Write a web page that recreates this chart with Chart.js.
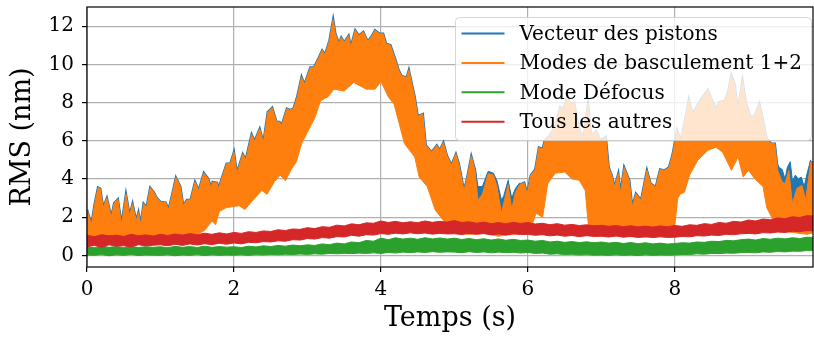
<!DOCTYPE html>
<html>
<head>
<meta charset="utf-8">
<script src="https://cdn.jsdelivr.net/npm/chart.js@4.4.0/dist/chart.umd.min.js"></script>
<style>
  html, body { margin: 0; padding: 0; background: #fff; }
  canvas { display: block; }
</style>
</head>
<body>
<canvas id="myChart" width="814" height="338"></canvas>
<script>
const labels = ["Vecteur des pistons", "Modes de basculement 1+2", "Mode Défocus", "Tous les autres"]
const colors = ["#1f77b4", "#ff7f0e", "#2ca02c", "#d62728"]

// temps d'échantillonnage (s) des bandes rouge et verte
const temps = Array.from({ length: 100 }, (_, i) => i / 10)

// "Tous les autres" : bord bas / bord haut de la bande (nm)
const autresBas = [
    0.45, 0.52, 0.42, 0.55, 0.48, 0.50, 0.44, 0.56, 0.49, 0.53,
    0.55, 0.50, 0.58, 0.52, 0.60, 0.54, 0.61, 0.56, 0.63, 0.58,
    0.65, 0.60, 0.68, 0.66, 0.72, 0.70, 0.76, 0.74, 0.82, 0.80,
    0.88, 0.85, 0.93, 0.90, 0.98, 0.96, 1.05, 1.00, 1.08, 1.06,
    1.14, 1.10, 1.16, 1.12, 1.18, 1.13, 1.17, 1.11, 1.15, 1.12,
    1.13, 1.09, 1.15, 1.10, 1.14, 1.08, 1.12, 1.07, 1.13, 1.09,
    1.10, 1.05, 1.08, 1.02, 1.06, 1.00, 1.04, 0.98, 1.03, 0.99,
    1.00, 0.96, 1.01, 0.95, 0.99, 0.94, 0.98, 0.93, 0.97, 0.94,
    0.95, 0.99, 0.97, 1.03, 1.01, 1.06, 1.04, 1.10, 1.08, 1.13,
    1.15, 1.12, 1.19, 1.17, 1.22, 1.20, 1.26, 1.24, 1.30, 1.28]
const autresHaut = [
    1.05, 0.98, 1.08, 1.02, 1.06, 0.99, 1.10, 1.03, 1.07, 1.01,
    1.10, 1.04, 1.12, 1.06, 1.14, 1.08, 1.16, 1.10, 1.18, 1.12,
    1.20, 1.15, 1.24, 1.20, 1.28, 1.25, 1.34, 1.30, 1.38, 1.36,
    1.45, 1.40, 1.50, 1.47, 1.58, 1.54, 1.65, 1.60, 1.70, 1.68,
    1.80, 1.72, 1.78, 1.70, 1.76, 1.71, 1.80, 1.73, 1.78, 1.74,
    1.82, 1.72, 1.76, 1.68, 1.74, 1.66, 1.72, 1.65, 1.73, 1.67,
    1.72, 1.64, 1.68, 1.60, 1.66, 1.58, 1.62, 1.56, 1.60, 1.55,
    1.57, 1.52, 1.56, 1.50, 1.55, 1.49, 1.53, 1.48, 1.54, 1.50,
    1.56, 1.52, 1.60, 1.57, 1.66, 1.62, 1.72, 1.68, 1.78, 1.74,
    1.85, 1.80, 1.90, 1.86, 1.96, 1.92, 2.02, 1.98, 2.08, 2.05]

// "Mode Défocus"
const defocusBas = [
    0.02, 0.00, 0.04, -0.02, 0.03, 0.00, 0.05, -0.01, 0.02, 0.01,
    0.00, 0.03, -0.02, 0.02, 0.00, 0.04, -0.01, 0.03, 0.00, 0.02,
    0.01, 0.03, 0.00, 0.04, 0.02, 0.05, 0.03, 0.06, 0.04, 0.07,
    0.05, 0.08, 0.06, 0.10, 0.08, 0.11, 0.09, 0.12, 0.10, 0.13,
    0.10, 0.15, 0.12, 0.17, 0.14, 0.18, 0.15, 0.19, 0.16, 0.18,
    0.17, 0.14, 0.19, 0.15, 0.18, 0.13, 0.17, 0.14, 0.16, 0.12,
    0.15, 0.10, 0.12, 0.06, 0.08, 0.04, 0.06, 0.02, 0.04, 0.01,
    0.02, 0.00, 0.03, 0.00, 0.02, -0.01, 0.03, 0.00, 0.02, 0.01,
    0.02, 0.05, 0.04, 0.08, 0.06, 0.10, 0.09, 0.12, 0.11, 0.14,
    0.15, 0.13, 0.18, 0.16, 0.20, 0.18, 0.22, 0.21, 0.25, 0.24]
const defocusHaut = [
    0.45, 0.40, 0.48, 0.42, 0.46, 0.40, 0.47, 0.41, 0.45, 0.42,
    0.45, 0.40, 0.47, 0.42, 0.46, 0.41, 0.48, 0.42, 0.46, 0.43,
    0.45, 0.41, 0.48, 0.44, 0.50, 0.46, 0.52, 0.48, 0.54, 0.50,
    0.55, 0.52, 0.60, 0.56, 0.64, 0.60, 0.70, 0.66, 0.78, 0.74,
    0.90, 0.82, 0.92, 0.85, 0.90, 0.84, 0.92, 0.86, 0.91, 0.85,
    0.90, 0.83, 0.88, 0.82, 0.87, 0.80, 0.86, 0.79, 0.84, 0.78,
    0.80, 0.74, 0.78, 0.70, 0.74, 0.68, 0.72, 0.67, 0.71, 0.66,
    0.70, 0.64, 0.68, 0.62, 0.67, 0.61, 0.66, 0.60, 0.64, 0.59,
    0.62, 0.66, 0.64, 0.70, 0.68, 0.74, 0.72, 0.78, 0.76, 0.82,
    0.85, 0.80, 0.88, 0.84, 0.90, 0.86, 0.92, 0.88, 0.95, 0.93]

// "Modes de basculement 1+2" : [temps, nm]
const basculementHaut = [
    [0, 2.4], [0.03, 2.0], [0.06, 1.6], [0.1, 2.6], [0.15, 3.55], [0.18, 3.5], [0.22, 2.5], [0.27, 3.0],
    [0.33, 2.0], [0.37, 2.74], [0.42, 2.93], [0.47, 1.6], [0.53, 3.2], [0.58, 2.1], [0.62, 2.7], [0.67, 1.8],
    [0.70, 2.25], [0.73, 1.6], [0.77, 2.7], [0.81, 2.5], [0.86, 3.54], [0.91, 3.3], [0.95, 3.0], [1.0, 2.8],
    [1.07, 2.76], [1.11, 2.4], [1.16, 3.2], [1.21, 4.07], [1.27, 3.6], [1.31, 2.6], [1.36, 2.9], [1.41, 2.9],
    [1.47, 3.84], [1.52, 3.4], [1.59, 4.31], [1.65, 4.0], [1.69, 3.54], [1.71, 3.84], [1.77, 3.8], [1.79, 3.5],
    [1.84, 4.1], [1.9, 4.8], [1.95, 4.8], [2.0, 5.4], [2.04, 4.3], [2.12, 5.3], [2.16, 5.0], [2.24, 6.33],
    [2.28, 5.97], [2.35, 6.63], [2.4, 5.9], [2.46, 7.5], [2.52, 7.73], [2.58, 6.98], [2.62, 6.98], [2.65, 6.8],
    [2.72, 7.68], [2.76, 7.6], [2.81, 7.68], [2.86, 8.29], [2.92, 9.34], [2.96, 8.95], [3.0, 9.4], [3.04, 9.83],
    [3.09, 9.83], [3.16, 10.4], [3.2, 10.73], [3.24, 10.5], [3.3, 11.26], [3.35, 12.34], [3.38, 11.6], [3.43, 11.08],
    [3.46, 11.4], [3.5, 11.15], [3.56, 11.5], [3.59, 10.9], [3.65, 11.78], [3.7, 11.5], [3.76, 11.7], [3.82, 11.2],
    [3.88, 11.5], [3.92, 11.78], [3.98, 11.6], [4.03, 11.6], [4.07, 11.08], [4.13, 11.0], [4.2, 10.2], [4.24, 9.7],
    [4.28, 9.4], [4.35, 9.3], [4.38, 9.7], [4.46, 8.29], [4.5, 7.28], [4.57, 7.4], [4.61, 5.76], [4.69, 5.4],
    [4.76, 5.76], [4.8, 5.5], [4.85, 5.9], [4.9, 5.2], [4.96, 4.71], [5.02, 5.3], [5.06, 4.8], [5.13, 3.4],
    [5.17, 4.0], [5.23, 5.18], [5.28, 4.45], [5.32, 2.88], [5.38, 3.2], [5.46, 4.28], [5.53, 4.2], [5.58, 3.6],
    [5.64, 2.2], [5.67, 2.7], [5.73, 3.7], [5.78, 2.4], [5.83, 3.3], [5.89, 3.7], [5.95, 3.8], [5.99, 3.23],
    [6.04, 4.19], [6.1, 4.5], [6.15, 5.64], [6.2, 5.58], [6.23, 6.0], [6.3, 6.28], [6.37, 6.72], [6.44, 7.76],
    [6.48, 7.6], [6.54, 8.32], [6.58, 7.85], [6.63, 8.0], [6.67, 7.07], [6.71, 6.46], [6.76, 6.2], [6.8, 7.4],
    [6.82, 7.94], [6.86, 6.28], [6.93, 6.5], [6.99, 6.0], [7.06, 6.2], [7.1, 4.6], [7.14, 4.2], [7.18, 3.58],
    [7.23, 4.28], [7.26, 3.23], [7.31, 4.6], [7.38, 3.93], [7.42, 2.53], [7.47, 3.23], [7.54, 2.88], [7.62, 4.45],
    [7.67, 3.75], [7.74, 3.58], [7.8, 4.5], [7.86, 4.45], [7.92, 4.6], [7.97, 5.3], [8.03, 6.54], [8.08, 6.0],
    [8.13, 6.9], [8.19, 8.15], [8.24, 7.4], [8.31, 7.85], [8.38, 8.3], [8.45, 8.67], [8.52, 7.97], [8.56, 7.68],
    [8.61, 8.03], [8.68, 8.1], [8.72, 8.47], [8.77, 9.42], [8.81, 9.0], [8.86, 7.6], [8.92, 9.16], [8.97, 7.94],
    [9.03, 7.24], [9.09, 7.33], [9.15, 7.94], [9.2, 7.07], [9.25, 6.1], [9.31, 5.85], [9.36, 5.85], [9.4, 4.45],
    [9.46, 3.84], [9.5, 3.75], [9.55, 4.45], [9.6, 2.7], [9.66, 3.5], [9.73, 3.66], [9.78, 2.88], [9.85, 4.88],
    [9.9, 4.8]]
const basculementBas = [
    [0, 1.0], [0.1, 0.9], [0.3, 1.0], [0.5, 0.9], [0.7, 1.0], [0.9, 0.95], [1.1, 1.0], [1.3, 1.05],
    [1.5, 1.1], [1.6, 1.3], [1.7, 1.8], [1.75, 1.6], [1.8, 2.3], [1.9, 2.5], [1.95, 2.53], [2.07, 2.6],
    [2.15, 2.4], [2.26, 2.9], [2.38, 3.4], [2.45, 3.2], [2.55, 3.85], [2.63, 4.2], [2.7, 3.9], [2.78, 4.5],
    [2.85, 4.9], [2.92, 5.85], [3.0, 6.45], [3.1, 7.2], [3.18, 8.1], [3.28, 8.3], [3.36, 8.7], [3.5, 8.6],
    [3.63, 9.05], [3.8, 8.7], [3.92, 8.7], [4.0, 9.1], [4.1, 8.3], [4.18, 7.9], [4.32, 5.85], [4.46, 5.15],
    [4.52, 4.1], [4.63, 3.6], [4.74, 2.36], [4.85, 1.83], [4.93, 1.5], [5.0, 1.2], [5.2, 1.1], [5.4, 1.15],
    [5.6, 1.0], [5.8, 1.1], [6.0, 1.2], [6.05, 1.5], [6.11, 2.2], [6.2, 2.0], [6.27, 3.75], [6.37, 4.3],
    [6.5, 4.36], [6.6, 4.0], [6.7, 3.93], [6.78, 3.4], [6.82, 1.7], [6.86, 1.2], [7.0, 1.1], [7.3, 1.0],
    [7.6, 0.95], [7.9, 1.1], [8.0, 1.6], [8.04, 3.0], [8.08, 3.23], [8.13, 3.3], [8.2, 4.2], [8.31, 4.97],
    [8.45, 5.5], [8.56, 5.66], [8.65, 5.4], [8.77, 4.45], [8.86, 5.15], [8.93, 4.1], [9.0, 4.45], [9.09, 4.0],
    [9.2, 3.6], [9.25, 2.5], [9.34, 1.83], [9.4, 1.3], [9.6, 1.2], [9.8, 1.1], [9.9, 1.2]]

// "Vecteur des pistons" visible au-dessus de l'orange dans les creux
const pistonsCreux = [
    [5.28, 4.6], [5.32, 3.6], [5.38, 3.6], [5.46, 4.4], [5.53, 4.3], [5.58, 3.9], [5.64, 2.9], [5.67, 3.1],
    [5.73, 3.9], [5.78, 3.0], [5.83, 3.5], [5.89, 3.8], [5.92, null],
    [9.38, 4.9], [9.42, 4.6], [9.46, 4.5], [9.5, 4.0], [9.53, 4.6], [9.57, 4.9], [9.6, 3.9], [9.64, 4.2],
    [9.68, 4.0], [9.72, 4.1], [9.76, 3.6], [9.8, 4.3], [9.85, 5.0]]

const xTicks = [0, 2, 4, 6, 8]
const yTicks = [0, 2, 4, 6, 8, 10, 12]

const font = "DejaVu Serif"

function band(values) {
    return values.map((v, i) => ({ x: temps[i], y: v }))
}

function lineDataset(data, color, extra) {
    return Object.assign({
        data: data,
        borderColor: color,
        backgroundColor: color,
        borderWidth: 1,
        pointRadius: 0,
        tension: 0,
        fill: false
    }, extra || {})
}

const datasets = [
    lineDataset(band(autresBas), colors[3]),
    lineDataset(band(autresHaut), colors[3], { fill: "-1" }),
    lineDataset(band(defocusBas), colors[2]),
    lineDataset(band(defocusHaut), colors[2], { fill: "-1" }),
    lineDataset(basculementBas, colors[1]),
    lineDataset(basculementHaut, colors[1], { fill: "-1" }),
    lineDataset(basculementHaut, colors[0], { borderWidth: 2.4 }),
    lineDataset(pistonsCreux, colors[0], { fill: { value: 2 }, spanGaps: false })
]

const framePlugin = {
    id: "frame",
    afterDatasetsDraw(chart) {
        const { ctx, chartArea: a } = chart
        ctx.save()
        ctx.strokeStyle = "#000"
        ctx.lineWidth = 1.2
        ctx.strokeRect(a.left, a.top, a.right - a.left, a.bottom - a.top)
        ctx.restore()
    }
}

const legendPlugin = {
    id: "legende",
    afterDatasetsDraw(chart) {
        const { ctx, chartArea: a } = chart
        const w = 356, h = 123
        const x0 = a.right - 1.5 - w, y0 = a.top + 10.5
        ctx.save()
        ctx.beginPath()
        ctx.roundRect(x0, y0, w, h, 4)
        ctx.fillStyle = "rgba(255,255,255,0.8)"
        ctx.fill()
        ctx.strokeStyle = "rgba(204,204,204,0.8)"
        ctx.lineWidth = 1
        ctx.stroke()
        ctx.font = "20px '" + font + "'"
        ctx.textBaseline = "middle"
        ctx.fillStyle = "#000"
        labels.forEach((label, i) => {
            const y = y0 + 16 + i * 29.4
            ctx.strokeStyle = colors[i]
            ctx.lineWidth = 2
            ctx.beginPath()
            ctx.moveTo(x0 + 6, y)
            ctx.lineTo(x0 + 49, y)
            ctx.stroke()
            ctx.fillText(label, x0 + 64, y + 1)
        })
        ctx.restore()
    }
}

const options = {
    responsive: false,
    animation: false,
    devicePixelRatio: 1,
    layout: { padding: { top: 7, right: 1, left: 0, bottom: 0 } },
    plugins: {
        legend: { display: false },
        tooltip: { enabled: false }
    },
    scales: {
        x: {
            type: "linear",
            min: 0,
            max: 9.88,
            afterBuildTicks: scale => { scale.ticks = xTicks.map(v => ({ value: v })) },
            afterFit: scale => {
                scale.height = 71
                scale.paddingLeft = 0
                scale.paddingRight = 0
            },
            ticks: {
                color: "#000",
                font: { family: font, size: 20 },
                padding: 6,
                maxRotation: 0
            },
            grid: { color: "#b0b0b0", lineWidth: 1.2, tickLength: 5, tickColor: "#000" },
            border: { display: false },
            title: {
                display: true,
                text: "Temps (s)",
                color: "#000",
                font: { family: font, size: 27 },
                padding: { top: 0, bottom: 3 }
            }
        },
        y: {
            type: "linear",
            min: -0.61,
            max: 13,
            afterBuildTicks: scale => { scale.ticks = yTicks.map(v => ({ value: v })) },
            afterFit: scale => {
                scale.width = 87
                scale.paddingTop = 0
                scale.paddingBottom = 0
            },
            ticks: {
                color: "#000",
                font: { family: font, size: 20 },
                padding: 8
            },
            grid: { color: "#b0b0b0", lineWidth: 1.2, tickLength: 5, tickColor: "#000" },
            border: { display: false },
            title: {
                display: true,
                text: "RMS (nm)",
                color: "#000",
                font: { family: font, size: 27 },
                padding: { top: 7, bottom: 0 }
            }
        }
    }
}

const ctx = document.getElementById("myChart").getContext("2d")
new Chart(ctx, {
    type: "line",
    data: { datasets: datasets },
    options: options,
    plugins: [framePlugin, legendPlugin]
})
</script>
</body>
</html>
